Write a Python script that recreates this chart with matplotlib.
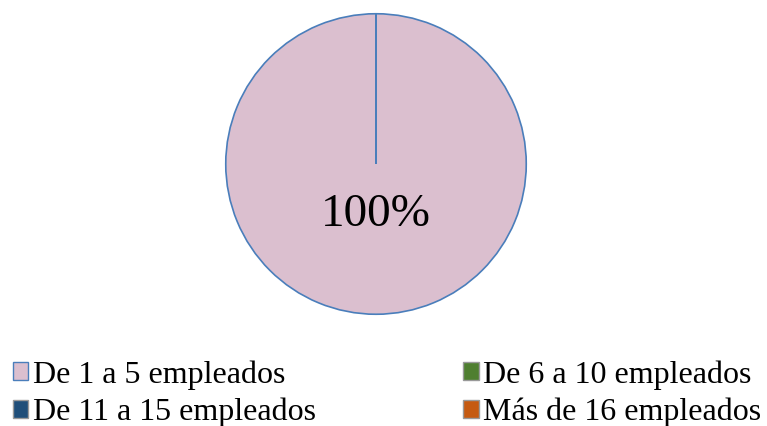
import matplotlib
matplotlib.use("Agg")
import matplotlib.pyplot as plt
from matplotlib.patches import Patch

categories = ["De 1 a 5 empleados", "De 6 a 10 empleados", "De 11 a 15 empleados", "Más de 16 empleados"]
values = [100, 0, 0, 0]
colors = ["#DBBFCF", "#4F7F30", "#1F4E79", "#C55A11"]
edge = "#4A7EBB"

plt.rcParams['font.family'] = ['Liberation Serif', 'DejaVu Serif']

fig = plt.figure(figsize=(7.67, 4.26), dpi=100)
ax = fig.add_axes([(376-151)/767, 1-(164+151)/426, 302/767, 302/426])

def fmt(p):
    return f"{p:.0f}%" if p > 0.5 else ""

wedges, texts, autotexts = ax.pie(values, colors=colors, startangle=90, counterclock=False,
       autopct=fmt, pctdistance=0.34,
       wedgeprops=dict(edgecolor=edge, linewidth=1.2),
       textprops=dict(fontsize=34, color='black'))
ax.set_xlim(-1.005, 1.005)
ax.set_ylim(-1.005, 1.005)
ax.set_aspect('equal')

handles = [Patch(facecolor=c, edgecolor=edge if i == 0 else '#999999', linewidth=1) for i, c in enumerate(colors)]
order = [0, 2, 1, 3]
leg = fig.legend([handles[i] for i in order], [categories[i] for i in order], ncol=2,
                 loc='lower left', bbox_to_anchor=(-0.012, -0.055), frameon=False,
                 fontsize=23, handlelength=0.48, handleheight=0.48, handletextpad=0.15,
                 columnspacing=4.6, labelspacing=0.25, borderpad=0.2)

fig.savefig("out.png", dpi=100)
